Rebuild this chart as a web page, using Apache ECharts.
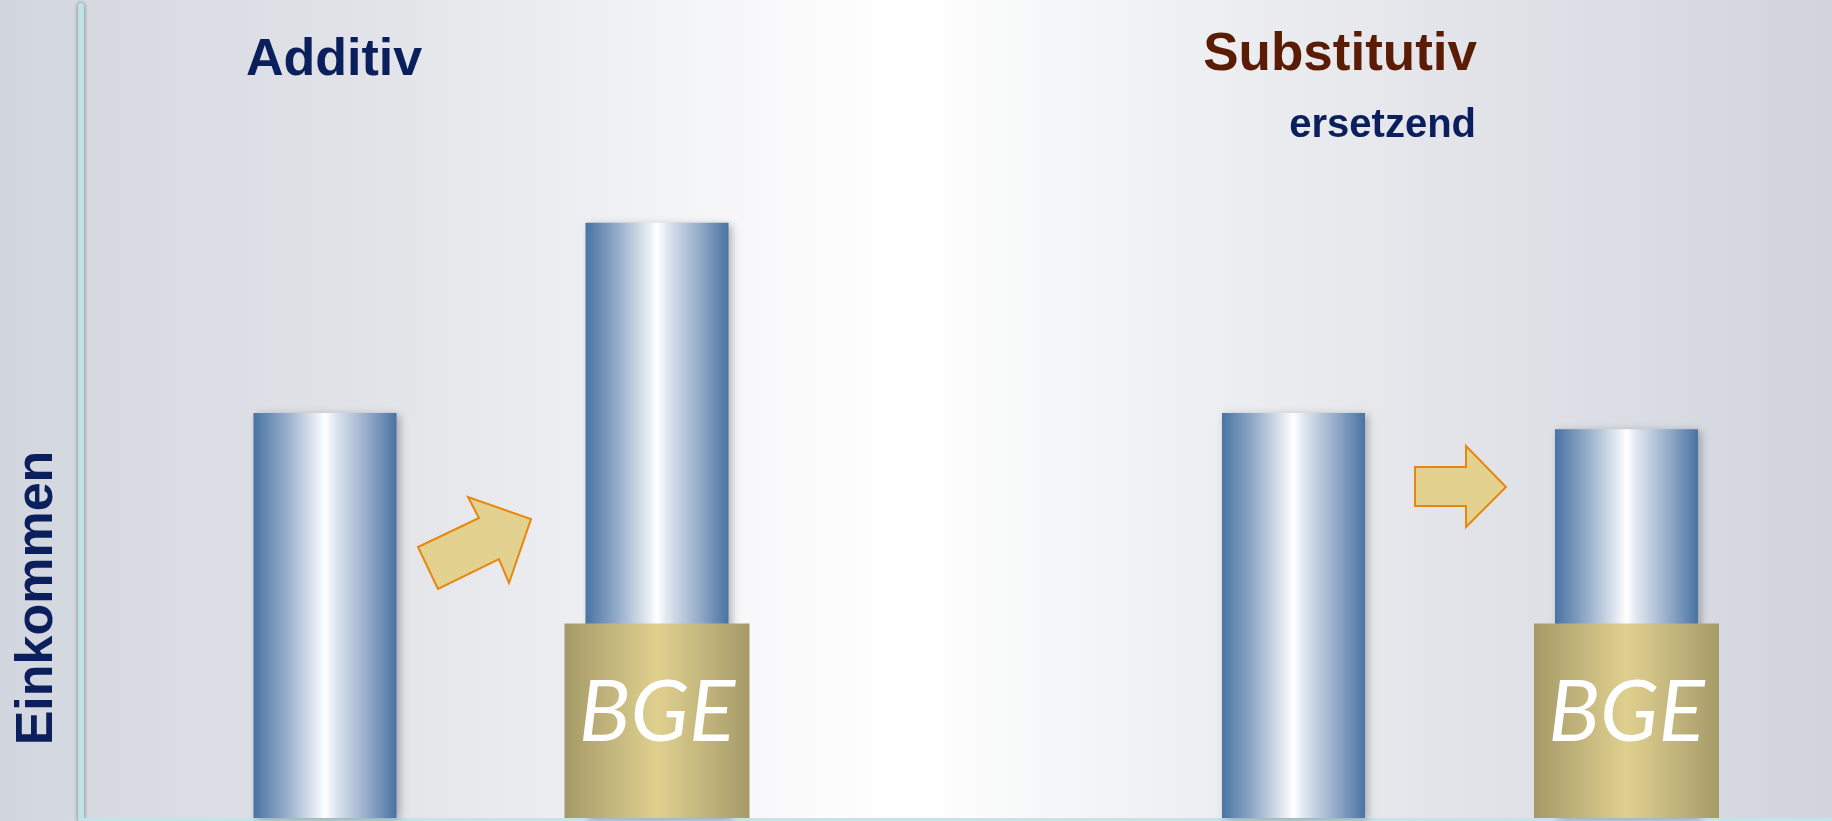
<!DOCTYPE html>
<html>
<head>
<meta charset="utf-8">
<title>Additiv / Substitutiv</title>
<script src="https://cdn.jsdelivr.net/npm/echarts@6/dist/echarts.min.js"></script>
<style>
html, body { margin: 0; padding: 0; background: #e6e8ec; }
#main { width: 1832px; height: 821px; }
</style>
</head>
<body>
<div id="main"></div>
<script>
// Daten (Einkommen in % der Achse)
var stufen = ['vorher', 'nachher'];
var additivEinkommen = [50, 73.5];
var additivBGE = ['-', 24];
var substitutivEinkommen = [50, 48];
var substitutivBGE = ['-', 24];

var NAVY = '#0b1f5c';
var BROWN = '#5a1c04';
var sans = '"Liberation Sans", Arial, sans-serif';

// Verlauf fuer die Saeulen (wie Zylinder)
var blau = new echarts.graphic.LinearGradient(0, 0, 1, 0, [
    { offset: 0, color: '#4873a3' },
    { offset: 0.22, color: '#93abc9' },
    { offset: 0.42, color: '#dfe6ef' },
    { offset: 0.5, color: '#ffffff' },
    { offset: 0.58, color: '#dde4ee' },
    { offset: 0.8, color: '#93aac8' },
    { offset: 1, color: '#4873a3' }
]);
var gold = new echarts.graphic.LinearGradient(0, 0, 1, 0, [
    { offset: 0, color: '#a59966' },
    { offset: 0.25, color: '#c2b57c' },
    { offset: 0.5, color: '#e0d08f' },
    { offset: 0.75, color: '#c3b67d' },
    { offset: 1, color: '#a59a68' }
]);

function einkommenSerie(xIdx, yIdx, werte) {
    return {
        type: 'bar',
        xAxisIndex: xIdx,
        yAxisIndex: yIdx,
        data: werte,
        barWidth: 143,
        z: 2,
        itemStyle: {
            color: blau,
            shadowColor: 'rgba(0,0,0,0.28)',
            shadowBlur: 8,
            shadowOffsetX: 3,
            shadowOffsetY: 2
        },
        silent: true
    };
}
function bgeSerie(xIdx, yIdx, werte) {
    return {
        type: 'bar',
        xAxisIndex: xIdx,
        yAxisIndex: yIdx,
        data: werte,
        barWidth: 185,
        z: 3,
        itemStyle: { color: gold },
        label: {
            show: true,
            position: 'inside',
            offset: [0, -8],
            formatter: 'BGE',
            color: '#ffffff',
            fontFamily: 'Lato, "Open Sans", sans-serif',
            fontStyle: 'italic',
            fontSize: 86
        },
        silent: true
    };
}

var hidden = { show: false };
function catAchse(grid) {
    return {
        type: 'category', gridIndex: grid, data: stufen,
        axisLine: hidden, axisTick: hidden, axisLabel: hidden
    };
}
function wertAchse(grid) {
    return {
        type: 'value', gridIndex: grid, min: 0, max: 100,
        axisLine: hidden, axisTick: hidden, axisLabel: hidden, splitLine: hidden
    };
}

var myChart = echarts.init(document.getElementById('main'));
var option = {
    animation: false,
    backgroundColor: new echarts.graphic.LinearGradient(0, 0, 1, 0, [
        { offset: 0, color: '#d2d6de' },
        { offset: 0.2, color: '#e1e3e8' },
        { offset: 0.44, color: '#fbfbfc' },
        { offset: 0.5, color: '#ffffff' },
        { offset: 0.62, color: '#f1f2f4' },
        { offset: 1, color: '#d1d4dd' }
    ]),
    title: [
        { text: 'Additiv', left: 246, top: 35, padding: 0,
          textStyle: { color: NAVY, fontSize: 52, fontWeight: 'bold', fontFamily: sans } },
        { text: 'Substitutiv', right: 355, top: 29, padding: 0,
          textStyle: { color: BROWN, fontSize: 53, fontWeight: 'bold', fontFamily: sans } },
        { text: 'ersetzend', right: 356, top: 106, padding: 0,
          textStyle: { color: NAVY, fontSize: 40, fontWeight: 'bold', fontFamily: sans } }
    ],
    grid: [
        { left: 81, right: 0, top: 6, bottom: 2 },
        { left: 159, width: 664, top: 8, bottom: 3 },
        { left: 1127, width: 666, top: 8, bottom: 3 }
    ],
    xAxis: [
        {
            type: 'category', gridIndex: 0, data: [''],
            axisLine: { show: true, lineStyle: { color: '#c4e5e8', width: 3 } },
            axisTick: hidden, axisLabel: hidden
        },
        catAchse(1), catAchse(1),
        catAchse(2), catAchse(2)
    ],
    yAxis: [
        {
            type: 'value', gridIndex: 0, min: 0, max: 100,
            axisLine: { show: true, lineStyle: {
                color: '#bfe3e4', width: 6,
                shadowColor: 'rgba(0,0,0,0.45)', shadowBlur: 4
            } },
            axisTick: hidden, axisLabel: hidden, splitLine: hidden
        },
        wertAchse(1),
        wertAchse(2)
    ],
    series: [
        einkommenSerie(1, 1, additivEinkommen),
        bgeSerie(2, 1, additivBGE),
        einkommenSerie(3, 2, substitutivEinkommen),
        bgeSerie(4, 2, substitutivBGE)
    ],
    graphic: [
        {
            type: 'text',
            x: 38, y: 598,
            rotation: Math.PI / 2,
            style: {
                text: 'Einkommen',
                fill: NAVY,
                font: 'bold 52px ' + sans,
                textAlign: 'center',
                textVerticalAlign: 'middle'
            }
        },
        // Pfeil schraeg (additiv)
        {
            type: 'polygon',
            shape: { points: [[438, 589], [418, 547], [479, 518], [468, 497], [531, 519], [509, 583], [499, 559]] },
            style: { fill: '#e2d18f', stroke: '#e8860e', lineWidth: 2 }
        },
        // Pfeil waagrecht (substitutiv)
        {
            type: 'polygon',
            shape: { points: [[1415, 467], [1466, 467], [1466, 446], [1506, 487], [1466, 527], [1466, 506], [1415, 506]] },
            style: { fill: '#e2d18f', stroke: '#e8860e', lineWidth: 2 }
        }
    ]
};
myChart.setOption(option);
</script>
</body>
</html>
